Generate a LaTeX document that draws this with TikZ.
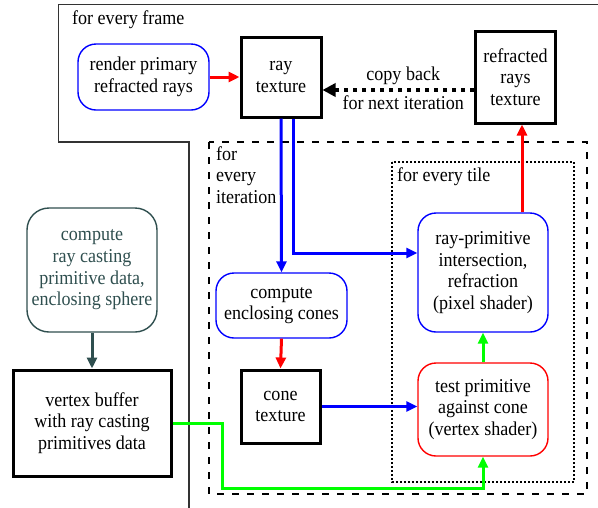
\documentclass[tikz,border=0pt]{standalone}
\usepackage{fontspec}
\setmainfont{Liberation Serif}
\newfontfamily\tnr[FakeStretch=0.92]{Liberation Serif}
\usetikzlibrary{arrows.meta}
\definecolor{slate}{HTML}{2F4F4F}
\definecolor{pureblue}{RGB}{0,0,255}
\definecolor{purered}{RGB}{255,0,0}
\definecolor{puregreen}{RGB}{0,255,0}
\definecolor{framegray}{HTML}{333333}
\tikzset{
  every node/.style={font=\tnr\fontsize{19.6}{21.7}\selectfont, align=center, inner sep=0pt},
  texbox/.style={draw=black, line width=3pt},
  roundbox/.style={draw, line width=1.4pt, rounded corners=18pt},
  arr/.style={line width=3pt, -{Triangle[length=11pt,width=10pt]}},
  lbl/.style={anchor=west, align=left},
}
\begin{document}
\begin{tikzpicture}[x=1pt,y=-1pt]
\useasboundingbox (0,0) rectangle (598,507);
% frames
\draw[framegray, line width=1.5pt] (600,4.7) -- (58.5,4.7) -- (58.5,142) -- (189,142) -- (189,510);
\draw[black, line width=1.5pt, dash pattern=on 7pt off 8pt] (209,142) rectangle (587,494);
\draw[black, line width=1.2pt, dash pattern=on 2pt off 2pt] (392,162) rectangle (574,482);
\node[lbl] (tframe) at (72,20) {for every frame};
\node[lbl, anchor=north west] (titer) at (216,146) {for\\every\\iteration};
\node[lbl] (ttile) at (397,177) {for every tile};
% nodes
\node[roundbox, draw=pureblue, minimum width=131pt, minimum height=66pt] (render) at (143.5,77) {render primary\\refracted rays};
\node[texbox, minimum width=80pt, minimum height=80pt] (rt) at (281,77) {ray\\texture};
\node[texbox, minimum width=80pt, minimum height=92pt] (rrt) at (515.5,77) {refracted\\rays\\texture};
\node[roundbox, draw=slate, text=slate, minimum width=130pt, minimum height=124pt, rounded corners=22pt] (cd) at (92,270) {compute\\ray casting\\primitive data,\\enclosing sphere};
\node[texbox, minimum width=158pt, minimum height=106pt] (vb) at (92,423) {vertex buffer\\with ray casting\\primitives data};
\node[roundbox, draw=pureblue, minimum width=131pt, minimum height=65pt] (cones) at (281.5,305.5) {compute\\enclosing cones};
\node[texbox, minimum width=79pt, minimum height=73pt] (ct) at (280.5,406.5) {cone\\texture};
\node[roundbox, draw=pureblue, minimum width=130pt, minimum height=119pt] (rp) at (483,272.5) {ray-primitive\\intersection,\\refraction\\(pixel shader)};
\node[roundbox, draw=purered, minimum width=130pt, minimum height=93pt] (tp) at (483,409.5) {test primitive\\against cone\\(vertex shader)};
\coordinate (g1) at (222,488);
% connectors
\draw[arr, purered] (render.east) -- (rt.west);
\draw[line width=4.5pt, dash pattern=on 4.5pt off 4.5pt, -{Triangle[length=13pt,width=13pt]}] ([yshift=-13pt]rrt.west) -- node[above=3pt, xshift=5pt] {copy back} node[below=3pt, xshift=5pt] {for next iteration} ([yshift=-13pt]rt.east);
\draw[arr, pureblue] (rt.south) -- (cones.north);
\draw[arr, pureblue] ([xshift=12pt]rt.south) |- ([yshift=19.5pt]rp.west);
\draw[arr, purered] (cones.south) -- (ct.north);
\draw[arr, pureblue] (ct.east) -- (ct.east -| tp.west);
\draw[arr, puregreen] (tp.north) -- (rp.south);
\draw[arr, purered] ([xshift=39pt]rp.north) -- ([xshift=39pt]rp.north |- rrt.south);
\draw[arr, slate] (cd.south) -- (vb.north);
\draw[arr, puregreen] (vb.east) -| (g1) -| (tp.south);
\end{tikzpicture}
\end{document}
